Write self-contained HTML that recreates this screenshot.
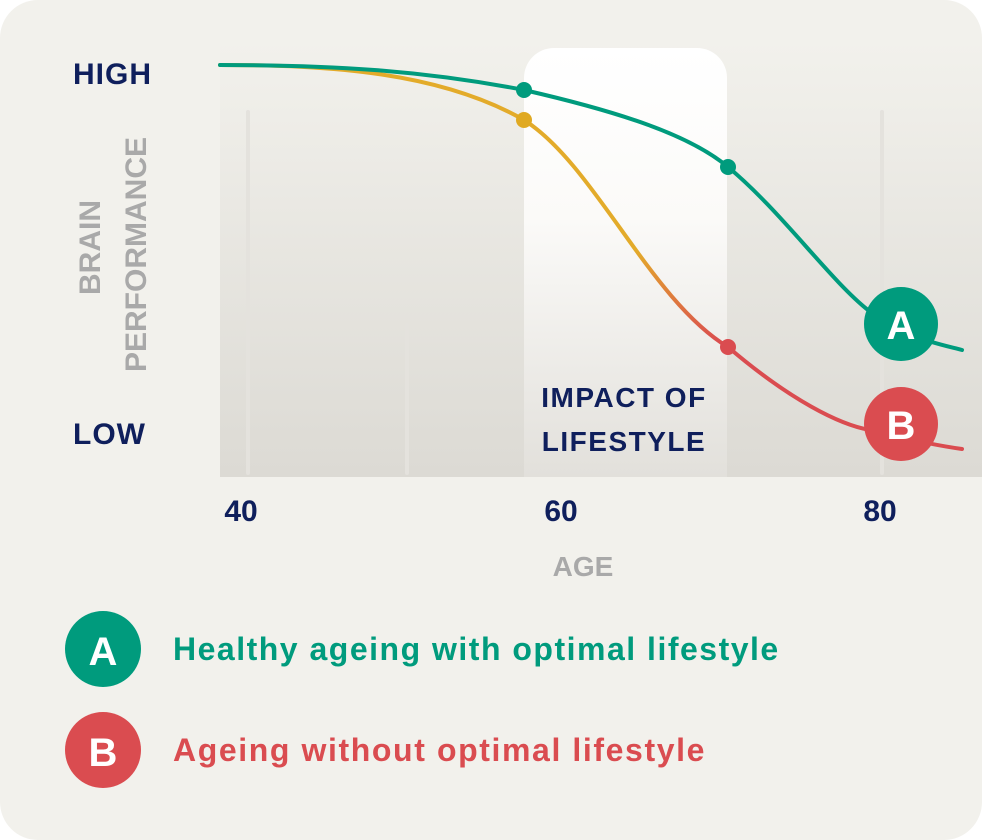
<!DOCTYPE html>
<html><head><style>
body{margin:0;background:#fff;}
svg{display:block;}
text{font-family:"Liberation Sans",sans-serif;font-weight:bold;}
</style></head><body>
<svg width="982" height="840" viewBox="0 0 982 840">
<defs>
<linearGradient id="bg" x1="0" y1="0" x2="0" y2="1">
<stop offset="0" stop-color="#f2f1ec"/><stop offset="1" stop-color="#dcdad4"/></linearGradient>
<linearGradient id="wb" x1="0" y1="0" x2="0" y2="1">
<stop offset="0" stop-color="#ffffff"/><stop offset="0.4" stop-color="#fbfaf8"/><stop offset="1" stop-color="#e2e0db"/></linearGradient>
<linearGradient id="yr" gradientUnits="userSpaceOnUse" x1="0" y1="250" x2="0" y2="345">
<stop offset="0" stop-color="#e3ab2a"/><stop offset="1" stop-color="#da4c50"/></linearGradient>
</defs>
<rect x="0" y="0" width="982" height="840" rx="38" fill="#f2f1ec"/>
<rect x="220" y="40" width="762" height="437" fill="url(#bg)"/>
<rect x="246" y="110" width="4" height="365" rx="2" fill="#e4e2dd"/>
<rect x="405" y="323" width="4" height="152" rx="2" fill="#e4e2dd"/>
<rect x="880" y="110" width="4" height="365" rx="2" fill="#e4e2dd"/>
<path d="M524 477 V78 a30 30 0 0 1 30 -30 H697 a30 30 0 0 1 30 30 V477 Z" fill="url(#wb)"/>
<path d="M220 65 C330 65 440 72 524 120 C595 165 650 300 728 347 C790 400 840 425 870 430 C910 440 940 446 962 449" fill="none" stroke="url(#yr)" stroke-width="4" stroke-linecap="round"/>
<path d="M220 65 C330 65 420 70 524 90 C620 112 690 135 728 167 C780 210 830 280 868 310 C895 335 935 343 962 350" fill="none" stroke="#009b7d" stroke-width="4" stroke-linecap="round"/>
<circle cx="524" cy="90" r="8" fill="#009b7d"/>
<circle cx="728" cy="167" r="8" fill="#009b7d"/>
<circle cx="524" cy="120" r="8" fill="#e0a922"/>
<circle cx="728" cy="347" r="8" fill="#da4c50"/>
<circle cx="901" cy="324" r="37" fill="#009b7d"/>
<text x="901" y="339" font-size="40" fill="#fff" text-anchor="middle">A</text>
<circle cx="901" cy="424" r="37" fill="#da4c50"/>
<text x="901" y="439" font-size="40" fill="#fff" text-anchor="middle">B</text>
<text x="624" y="407" font-size="28" letter-spacing="1.5" fill="#0f1f5c" text-anchor="middle">IMPACT OF</text>
<text x="624" y="451" font-size="28" letter-spacing="1.5" fill="#0f1f5c" text-anchor="middle">LIFESTYLE</text>
<text x="73" y="84" font-size="30" letter-spacing="1" fill="#0f1f5c">HIGH</text>
<text x="73" y="444" font-size="30" letter-spacing="1" fill="#0f1f5c">LOW</text>
<text transform="translate(100,295) rotate(-90)" font-size="30" fill="#a9a9a9">BRAIN</text>
<text transform="translate(146,372) rotate(-90)" font-size="30" fill="#a9a9a9">PERFORMANCE</text>
<text x="241" y="521" font-size="30" fill="#0f1f5c" text-anchor="middle">40</text>
<text x="561" y="521" font-size="30" fill="#0f1f5c" text-anchor="middle">60</text>
<text x="880" y="521" font-size="30" fill="#0f1f5c" text-anchor="middle">80</text>
<text x="583" y="576" font-size="28" fill="#a9a9a9" text-anchor="middle">AGE</text>
<circle cx="103" cy="649" r="38" fill="#009b7d"/>
<text x="103" y="665" font-size="40" fill="#fff" text-anchor="middle">A</text>
<text x="173" y="660" font-size="32" letter-spacing="1.5" fill="#009b7d">Healthy ageing with optimal lifestyle</text>
<circle cx="103" cy="750" r="38" fill="#da4c50"/>
<text x="103" y="766" font-size="40" fill="#fff" text-anchor="middle">B</text>
<text x="173" y="761" font-size="32" letter-spacing="1.6" fill="#da4c50">Ageing without optimal lifestyle</text>
</svg>
</body></html>
